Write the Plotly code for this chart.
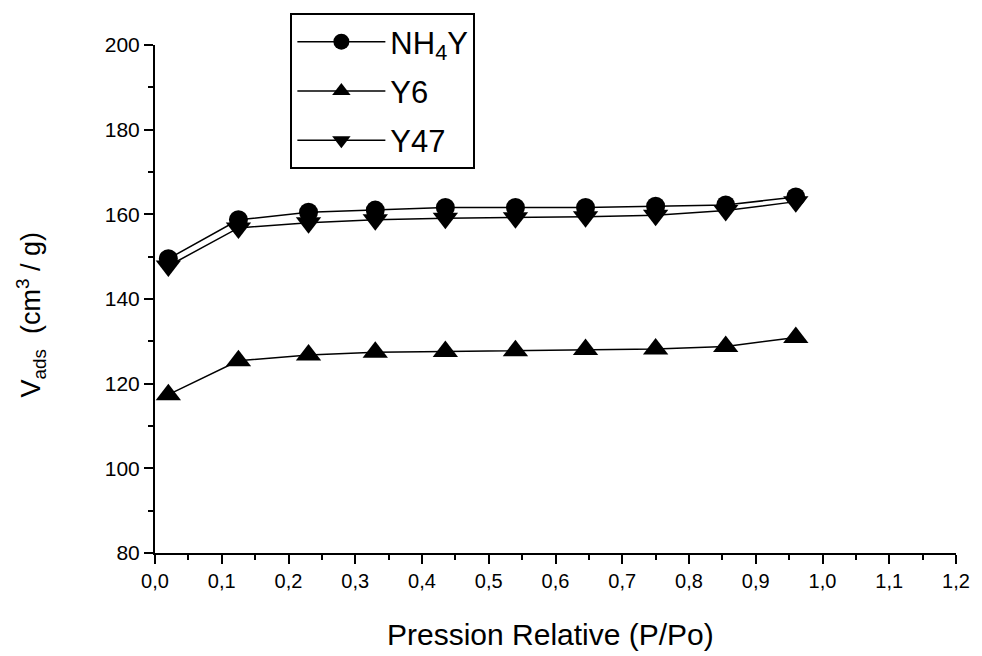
import plotly.graph_objects as go

# Data
x_vals = [0.02, 0.125, 0.23, 0.33, 0.435, 0.54, 0.645, 0.75, 0.855, 0.96]
nh4y = [149.5, 158.7, 160.5, 161.0, 161.6, 161.6, 161.6, 161.9, 162.2, 164.1]
y6 = [117.4, 125.4, 126.8, 127.4, 127.6, 127.8, 128.1, 128.2, 128.8, 130.9]
y47 = [147.8, 156.8, 158.0, 158.7, 159.1, 159.2, 159.4, 159.8, 160.9, 163.0]

x_ticks = [0.0, 0.1, 0.2, 0.3, 0.4, 0.5, 0.6, 0.7, 0.8, 0.9, 1.0, 1.1, 1.2]
x_ticklabels = ["0,0", "0,1", "0,2", "0,3", "0,4", "0,5", "0,6", "0,7", "0,8", "0,9", "1,0", "1,1", "1,2"]
y_ticks = [80, 100, 120, 140, 160, 180, 200]

FONT = "Liberation Sans, Arial, sans-serif"

fig = go.Figure()
fig.add_trace(go.Scatter(
    x=x_vals, y=y47, name="Y47", mode="lines+markers",
    line=dict(color="black", width=1.5),
    marker=dict(symbol="triangle-down", size=22, color="black"),
    legendgroup="c", legendrank=3,
))
fig.add_trace(go.Scatter(
    x=x_vals, y=y6, name="Y6", mode="lines+markers",
    line=dict(color="black", width=1.5),
    marker=dict(symbol="triangle-up", size=22, color="black"),
    legendgroup="b", legendrank=2,
))
fig.add_trace(go.Scatter(
    x=x_vals, y=nh4y, name="NH<sub>4</sub>Y", mode="lines+markers",
    line=dict(color="black", width=1.5),
    marker=dict(symbol="circle", size=19, color="black"),
    legendgroup="a", legendrank=1,
))

fig.update_layout(
    width=982, height=656,
    margin=dict(l=155, r=18, t=45, b=103),
    paper_bgcolor="white", plot_bgcolor="white",
    font=dict(family=FONT, color="black", size=20),
    showlegend=True,
    legend=dict(
        x=0.169, y=1.063, xanchor="left", yanchor="top",
        bgcolor="white", bordercolor="black", borderwidth=2,
        font=dict(family=FONT, size=31, color="black"),
        tracegroupgap=6, itemwidth=88,
    ),
    xaxis=dict(
        range=[0, 1.2], tickvals=x_ticks, ticktext=x_ticklabels,
        showgrid=False, zeroline=False, showline=True,
        linecolor="black", linewidth=2,
        ticks="outside", ticklen=9, tickwidth=2, tickcolor="black",
        minor=dict(dtick=0.05, ticks="outside", ticklen=5, tickwidth=1.5, tickcolor="black"),
        tickfont=dict(family=FONT, size=20),
    ),
    yaxis=dict(
        range=[80, 200], tickvals=y_ticks,
        showgrid=False, zeroline=False, showline=True,
        linecolor="black", linewidth=2,
        ticks="outside", ticklen=9, tickwidth=2, tickcolor="black",
        minor=dict(dtick=10, ticks="outside", ticklen=5, tickwidth=1.5, tickcolor="black"),
        tickfont=dict(family=FONT, size=21),
    ),
    annotations=[
        dict(text="Pression Relative (P/Po)", xref="paper", yref="paper",
             x=0.494, y=-0.161, xanchor="center", yanchor="middle",
             showarrow=False, font=dict(family=FONT, size=30)),
        dict(text="V<sub>ads</sub>  (cm<sup>3</sup> / g)", xref="paper", yref="paper",
             x=-0.1545, y=0.47, xanchor="center", yanchor="middle", textangle=-90,
             showarrow=False, font=dict(family=FONT, size=27)),
    ],
)

fig.write_html("out.html")
